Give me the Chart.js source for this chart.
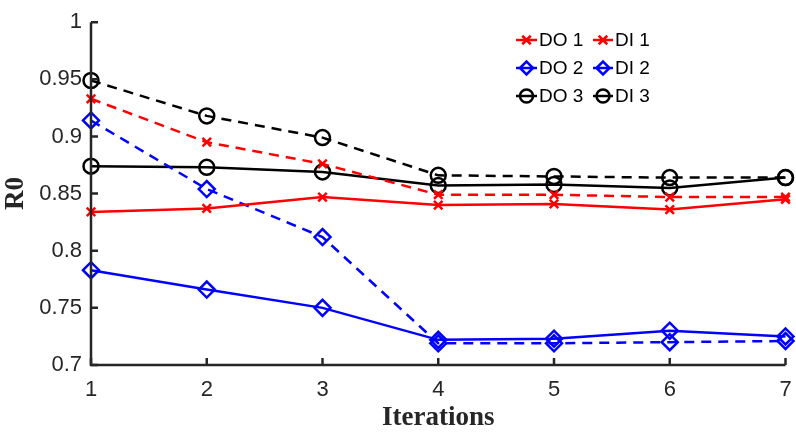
<!DOCTYPE html>
<html>
<head>
<meta charset="utf-8">
<script src="https://cdn.jsdelivr.net/npm/chart.js@4"></script>
<style>
html,body{margin:0;padding:0;background:#fff;}
#wrap{width:796px;height:434px;position:relative;}
</style>
</head>
<body>
<div id="wrap"><canvas id="c" width="796" height="434"></canvas></div>
<script>
const categories = ['1','2','3','4','5','6','7'];
const yTickValues = [0.7, 0.75, 0.8, 0.85, 0.9, 0.95, 1];
const yTickLabels = ['0.7','0.75','0.8','0.85','0.9','0.95','1'];

const do1 = [0.834, 0.837, 0.847, 0.840, 0.841, 0.836, 0.845];
const di1 = [0.933, 0.895, 0.876, 0.849, 0.849, 0.847, 0.847];
const do2 = [0.783, 0.766, 0.750, 0.722, 0.723, 0.730, 0.725];
const di2 = [0.914, 0.854, 0.812, 0.719, 0.719, 0.720, 0.721];
const do3 = [0.874, 0.873, 0.869, 0.857, 0.858, 0.855, 0.864];
const di3 = [0.949, 0.918, 0.899, 0.866, 0.865, 0.864, 0.864];

const seriesNames = ['DO 1','DI 1','DO 2','DI 2','DO 3','DI 3'];

const RED = '#ff0000', BLUE = '#0000ff', BLACK = '#000000';
const AXIS = '#262626';
const DASH = [10, 7];

function ds(label, data, color, style, dashed, radius) {
  return {
    label, data,
    borderColor: color,
    backgroundColor: 'rgba(0,0,0,0)',
    pointBackgroundColor: 'rgba(0,0,0,0)',
    pointBorderColor: color,
    pointStyle: style,
    pointRadius: radius,
    pointHoverRadius: radius,
    pointBorderWidth: 2.5,
    borderWidth: 2.5,
    borderDash: dashed ? DASH : [],
    tension: 0,
    clip: false
  };
}

const datasets = [
  ds(seriesNames[0], do1, RED, 'crossRot', false, 6),
  ds(seriesNames[1], di1, RED, 'crossRot', true, 6),
  ds(seriesNames[2], do2, BLUE, 'rectRot', false, 8),
  ds(seriesNames[3], di2, BLUE, 'rectRot', true, 8),
  ds(seriesNames[4], do3, BLACK, 'circle', false, 7.5),
  ds(seriesNames[5], di3, BLACK, 'circle', true, 7.5)
];

const axesPlugin = {
  id: 'axesPlugin',
  afterDraw(chart) {
    const ctx = chart.ctx;
    const xs = chart.scales.x, ys = chart.scales.y;
    const area = chart.chartArea;
    ctx.save();
    ctx.strokeStyle = AXIS;
    ctx.lineWidth = 2.5;
    ctx.lineCap = 'butt';
    ctx.beginPath();
    ctx.moveTo(area.left, area.top);
    ctx.lineTo(area.left, area.bottom);
    ctx.lineTo(area.right, area.bottom);
    ctx.stroke();
    const tl = 7;
    ctx.beginPath();
    yTickValues.forEach(v => {
      const py = ys.getPixelForValue(v);
      ctx.moveTo(area.left, py);
      ctx.lineTo(area.left + tl, py);
    });
    categories.forEach((c, i) => {
      const px = xs.getPixelForValue(i);
      ctx.moveTo(px, area.bottom);
      ctx.lineTo(px, area.bottom - tl);
    });
    ctx.stroke();

    // legend
    const cols = [{x0: 516, x1: 537, tx: 539}, {x0: 593, x1: 613, tx: 615}];
    const rows = [40, 68, 96];
    ctx.font = '19px "Liberation Sans", Arial, sans-serif';
    ctx.textBaseline = 'middle';
    ctx.textAlign = 'left';
    chart.data.datasets.forEach((d, i) => {
      const col = cols[i % 2], y = rows[Math.floor(i / 2)];
      ctx.strokeStyle = d.borderColor;
      ctx.lineWidth = 2.5;
      ctx.setLineDash([]);
      ctx.beginPath();
      ctx.moveTo(col.x0, y);
      ctx.lineTo(col.x1, y);
      ctx.stroke();
      const mx = (col.x0 + col.x1) / 2;
      ctx.fillStyle = 'rgba(0,0,0,0)';
      Chart.helpers.drawPoint(ctx, {
        pointStyle: d.pointStyle, radius: Math.min(d.pointRadius, 6.5), rotation: 0,
        borderWidth: 2.5
      }, mx, y);
      ctx.fillStyle = '#000';
      ctx.fillText(d.label, col.tx, y + 1);
    });
    ctx.restore();
  }
};

new Chart(document.getElementById('c'), {
  type: 'line',
  data: { labels: categories, datasets },
  options: {
    responsive: false,
    animation: false,
    devicePixelRatio: 1,
    layout: { padding: { top: 17, right: 10, left: 0, bottom: 0 } },
    plugins: { legend: { display: false }, tooltip: { enabled: false } },
    scales: {
      x: {
        type: 'category',
        offset: false,
        grid: { display: false, drawTicks: false },
        border: { display: false },
        ticks: {
          color: AXIS, padding: 12,
          font: { family: '"Liberation Sans", Arial, sans-serif', size: 22 },
          maxRotation: 0, autoSkip: false
        },
        title: {
          display: true, text: 'Iterations', color: AXIS, padding: { top: 0, bottom: 0 },
          font: { family: '"Liberation Serif", "Times New Roman", serif', size: 27, weight: 'bold' }
        },
        afterFit(s) { s.height = 69; s.paddingRight = 0; s.paddingLeft = 0; }
      },
      y: {
        min: 0.7, max: 1,
        grid: { display: false, drawTicks: false },
        border: { display: false },
        afterBuildTicks(s) { s.ticks = yTickValues.map(v => ({ value: v })); },
        ticks: {
          color: AXIS, padding: 9,
          font: { family: '"Liberation Sans", Arial, sans-serif', size: 22 },
          callback: (v, i) => yTickLabels[i]
        },
        title: {
          display: true, text: 'R0', color: AXIS, padding: { top: 0, bottom: 0 },
          font: { family: '"Liberation Serif", "Times New Roman", serif', size: 27, weight: 'bold' }
        },
        afterFit(s) { s.width = 91; }
      }
    }
  },
  plugins: [axesPlugin]
});
</script>
</body>
</html>
